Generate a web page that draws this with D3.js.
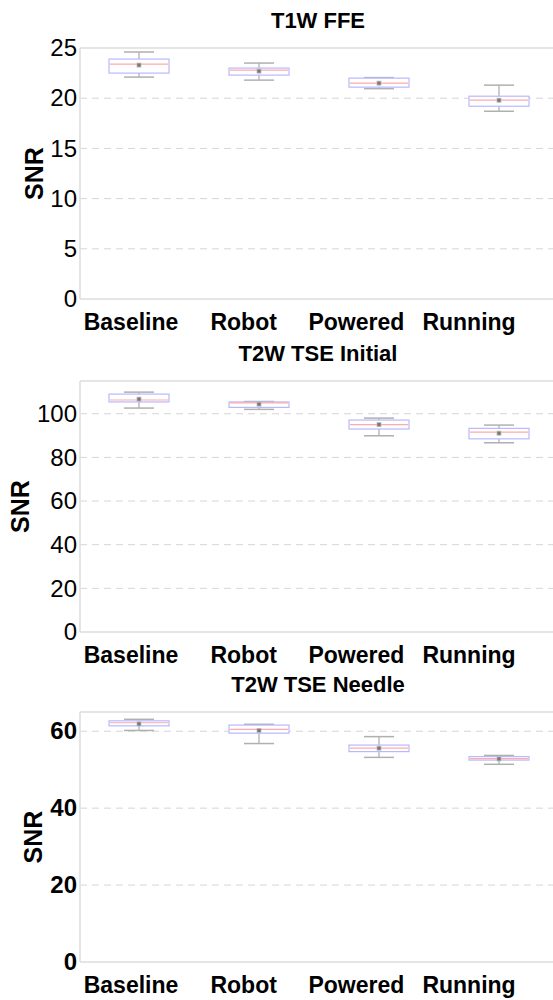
<!DOCTYPE html>
<html>
<head>
<meta charset="utf-8">
<script src="https://cdn.jsdelivr.net/npm/d3@7"></script>
<style>
  body { margin: 0; background: #fff; }
  text { font-family: "Liberation Sans", Arial, sans-serif; }
</style>
</head>
<body>
<div id="page"></div>
<script>
var categories = ["Baseline", "Robot", "Powered", "Running"];

// T1W FFE
var t1wLow    = [22.1, 21.8, 20.95, 18.7];
var t1wQ1     = [22.5, 22.3, 21.1, 19.2];
var t1wMedian = [23.4, 22.8, 21.5, 19.8];
var t1wQ3     = [23.9, 23.0, 22.0, 20.2];
var t1wHigh   = [24.6, 23.5, 22.05, 21.3];
var t1wMean   = [23.3, 22.7, 21.5, 19.8];

// T2W TSE Initial
var initLow    = [102.6, 102.0, 89.9, 86.7];
var initQ1     = [105.4, 102.9, 93.0, 88.5];
var initMedian = [106.3, 105.0, 95.0, 91.6];
var initQ3     = [109.0, 105.4, 97.1, 93.3];
var initHigh   = [109.9, 105.6, 98.0, 94.8];
var initMean   = [106.7, 104.4, 95.0, 91.1];

// T2W TSE Needle
var needleLow    = [60.2, 56.8, 53.2, 51.4];
var needleQ1     = [61.4, 59.5, 54.7, 52.5];
var needleMedian = [62.2, 60.5, 55.6, 52.9];
var needleQ3     = [62.7, 61.6, 56.4, 53.4];
var needleHigh   = [63.1, 61.8, 58.6, 53.7];
var needleMean   = [61.9, 60.2, 55.6, 52.8];

var t1wTicks = [0, 5, 10, 15, 20, 25];
var initTicks = [0, 20, 40, 60, 80, 100];
var needleTicks = [0, 20, 40, 60];

var panels = [
  {title: "T1W FFE", max: 25, ticks: t1wTicks, bold: false, top: 48, bottom: 299, labelX: 34,
   low: t1wLow, q1: t1wQ1, med: t1wMedian, q3: t1wQ3, high: t1wHigh, mean: t1wMean},
  {title: "T2W TSE Initial", max: 115, ticks: initTicks, bold: false, top: 381, bottom: 632, labelX: 20,
   low: initLow, q1: initQ1, med: initMedian, q3: initQ3, high: initHigh, mean: initMean},
  {title: "T2W TSE Needle", max: 65, ticks: needleTicks, bold: true, top: 712, bottom: 962, labelX: 33,
   low: needleLow, q1: needleQ1, med: needleMedian, q3: needleQ3, high: needleHigh, mean: needleMean}
];

var width = 553, height = 1000,
    left = 79, right = 559;

var svg = d3.select("#page").append("svg")
    .attr("width", width)
    .attr("height", height);

var x = d3.scaleBand().domain(categories).range([left, right]);
var xLabel = d3.scalePoint().domain(categories).range([131, 469]);

panels.forEach(function(p) {
  var y = d3.scaleLinear().domain([0, p.max]).range([p.bottom, p.top]);
  var g = svg.append("g");

  // grid
  g.selectAll("line.grid")
      .data(p.ticks.filter(function(t) { return t > 0 && t < p.max; }))
    .enter().append("line")
      .attr("x1", left + 1).attr("x2", width)
      .attr("y1", function(d) { return y(d); })
      .attr("y2", function(d) { return y(d); })
      .attr("stroke", "#d6d6d6")
      .attr("stroke-width", 1)
      .attr("stroke-dasharray", "7,5");

  // frame
  g.append("line").attr("x1", left + 1).attr("x2", width)
      .attr("y1", p.top).attr("y2", p.top)
      .attr("stroke", "#dcdcdc").attr("stroke-width", 1.5);
  g.append("line").attr("x1", left + 1).attr("x2", width)
      .attr("y1", p.bottom).attr("y2", p.bottom)
      .attr("stroke", "#dcdcdc").attr("stroke-width", 1.5);
  g.append("line").attr("x1", left + 1).attr("x2", left + 1)
      .attr("y1", p.top).attr("y2", p.bottom)
      .attr("stroke", "#dcdcdc").attr("stroke-width", 1.5);

  // y axis
  var yAxis = d3.axisLeft(y).tickValues(p.ticks).tickSize(0).tickPadding(2);
  var ya = g.append("g").attr("transform", "translate(" + left + ",0)").call(yAxis);
  ya.select(".domain").remove();
  ya.selectAll("text")
      .attr("font-size", 24)
      .attr("font-weight", p.bold ? "bold" : "normal")
      .attr("fill", "#000")
      .attr("font-family", "'Liberation Sans', Arial, sans-serif");

  // x labels
  g.selectAll("text.cat")
      .data(categories)
    .enter().append("text")
      .attr("x", function(d) { return xLabel(d); })
      .attr("y", p.bottom + 31)
      .attr("text-anchor", "middle")
      .attr("font-size", 23)
      .attr("font-weight", "bold")
      .text(function(d) { return d; });

  // title
  g.append("text")
      .attr("x", 318)
      .attr("y", p.top - 20)
      .attr("text-anchor", "middle")
      .attr("font-size", 22)
      .attr("font-weight", "bold")
      .text(p.title);

  // y label
  g.append("text")
      .attr("transform", "translate(" + (p.labelX + 9) + "," + ((p.top + p.bottom) / 2) + ") rotate(-90)")
      .attr("text-anchor", "middle")
      .attr("font-size", 25)
      .attr("font-weight", "bold")
      .text("SNR");

  // boxes
  var bw = x.bandwidth() / 2, cw = x.bandwidth() / 4;
  var box = g.selectAll("g.box")
      .data(categories)
    .enter().append("g")
      .attr("transform", function(d) { return "translate(" + (x(d) + x.bandwidth() / 2) + ",0)"; });

  box.append("line")
      .attr("x1", 0).attr("x2", 0)
      .attr("y1", function(d, i) { return y(p.high[i]); })
      .attr("y2", function(d, i) { return y(p.q3[i]); })
      .attr("stroke", "#aaa").attr("stroke-width", 1.2);
  box.append("line")
      .attr("x1", 0).attr("x2", 0)
      .attr("y1", function(d, i) { return y(p.q1[i]); })
      .attr("y2", function(d, i) { return y(p.low[i]); })
      .attr("stroke", "#aaa").attr("stroke-width", 1.2);
  box.append("line")
      .attr("x1", -cw / 2).attr("x2", cw / 2)
      .attr("y1", function(d, i) { return y(p.high[i]); })
      .attr("y2", function(d, i) { return y(p.high[i]); })
      .attr("stroke", "#b0b0b0").attr("stroke-width", 1.5);
  box.append("line")
      .attr("x1", -cw / 2).attr("x2", cw / 2)
      .attr("y1", function(d, i) { return y(p.low[i]); })
      .attr("y2", function(d, i) { return y(p.low[i]); })
      .attr("stroke", "#b0b0b0").attr("stroke-width", 1.5);
  box.append("rect")
      .attr("x", -bw / 2).attr("width", bw)
      .attr("y", function(d, i) { return y(p.q3[i]); })
      .attr("height", function(d, i) { return y(p.q1[i]) - y(p.q3[i]); })
      .attr("fill", "#fff")
      .attr("stroke", "#b8b8ff").attr("stroke-width", 1.2);
  box.append("line")
      .attr("x1", -bw / 2 + 1).attr("x2", bw / 2 - 1)
      .attr("y1", function(d, i) { return y(p.med[i]); })
      .attr("y2", function(d, i) { return y(p.med[i]); })
      .attr("stroke", "#ffaaaa").attr("stroke-width", 1.2);
  box.append("rect")
      .attr("x", -2).attr("width", 4)
      .attr("y", function(d, i) { return y(p.mean[i]) - 2; })
      .attr("height", 4)
      .attr("fill", "#777").attr("stroke", "#bbb").attr("stroke-width", 0.8);
});
</script>
</body>
</html>
